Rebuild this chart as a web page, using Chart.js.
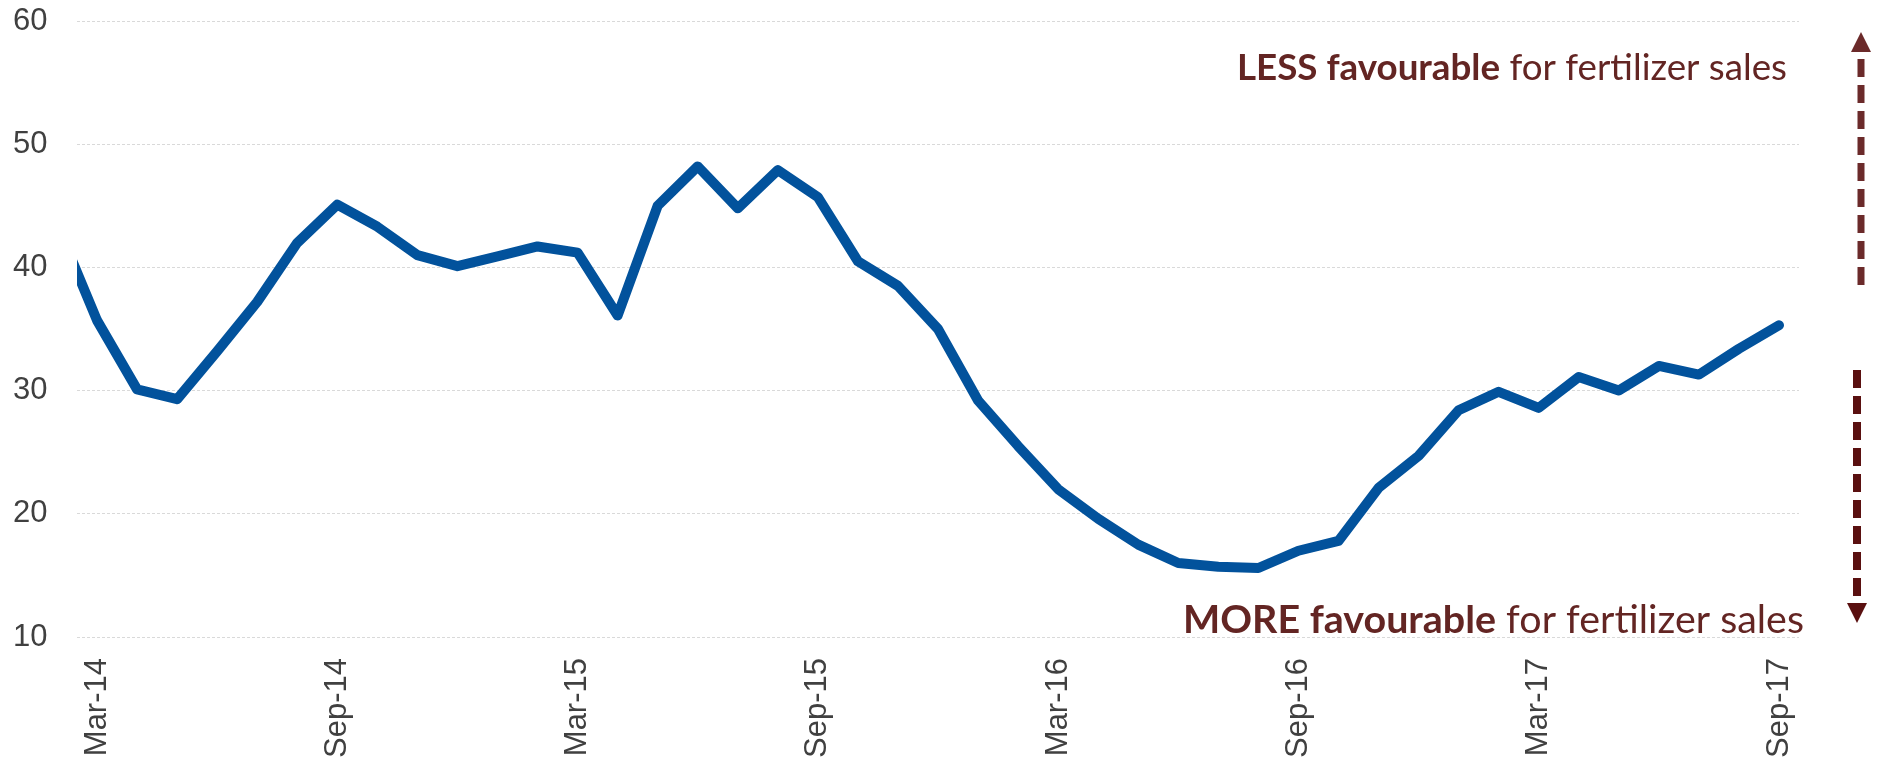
<!DOCTYPE html>
<html>
<head>
<meta charset="utf-8">
<title>Fertilizer sales conditions</title>
<script src="https://cdn.jsdelivr.net/npm/chart.js@4.4.1/dist/chart.umd.min.js"></script>
<style>
  html, body { margin: 0; padding: 0; background: #fff; }
  #wrap { width: 1883px; height: 761px; position: relative; }
</style>
</head>
<body>
<div id="wrap"><canvas id="lineChart"></canvas></div>
<script>
// Monthly labels; Feb-14 lies just off the left edge, the axis starts at Mar-14
const months = [
  'Feb-14', 'Mar-14', 'Apr-14', 'May-14', 'Jun-14', 'Jul-14', 'Aug-14', 'Sep-14', 'Oct-14', 'Nov-14', 'Dec-14',
  'Jan-15', 'Feb-15', 'Mar-15', 'Apr-15', 'May-15', 'Jun-15', 'Jul-15', 'Aug-15', 'Sep-15', 'Oct-15', 'Nov-15', 'Dec-15',
  'Jan-16', 'Feb-16', 'Mar-16', 'Apr-16', 'May-16', 'Jun-16', 'Jul-16', 'Aug-16', 'Sep-16', 'Oct-16', 'Nov-16', 'Dec-16',
  'Jan-17', 'Feb-17', 'Mar-17', 'Apr-17', 'May-17', 'Jun-17', 'Jul-17', 'Aug-17', 'Sep-17'
];

const values = [
  43.5, 35.7, 30.1, 29.3, 33.2, 37.2, 42.0, 45.1, 43.3, 41.0, 40.1,
  40.9, 41.7, 41.2, 36.1, 45.0, 48.2, 44.8, 47.9, 45.7, 40.5, 38.5, 35.0,
  29.2, 25.5, 22.0, 19.6, 17.5, 16.0, 15.7, 15.6, 17.0, 17.8, 22.1, 24.7,
  28.4, 29.9, 28.6, 31.1, 30.0, 32.0, 31.3, 33.4, 35.3
];

const firstMonth = 'Mar-14';
const labelEvery = 6;
const yTicks = [10, 20, 30, 40, 50, 60];

const noteColor = '#632523';

// Draws the two "favourable" notes and the dashed arrows on the right
const favourNotes = {
  id: 'favourNotes',
  afterDraw(chart) {
    const ctx = chart.ctx;
    ctx.save();

    // font size picked for cap height, then squeezed to the wanted width
    function note(bold, rest, right, baseline, width, size) {
      ctx.font = 'bold ' + size + 'px Lato';
      const wb = ctx.measureText(bold).width;
      ctx.font = size + 'px Lato';
      const wr = ctx.measureText(rest).width;
      const sx = width / (wb + wr);

      ctx.save();
      ctx.translate(right - width, baseline);
      ctx.scale(sx, 1);
      ctx.fillStyle = noteColor;
      ctx.textBaseline = 'alphabetic';
      ctx.textAlign = 'left';
      ctx.font = 'bold ' + size + 'px Lato';
      ctx.fillText(bold, 0, 0);
      ctx.font = size + 'px Lato';
      ctx.fillText(rest, wb, 0);
      ctx.restore();
    }

    function arrow(x, from, to, tip, color, lw) {
      ctx.strokeStyle = color;
      ctx.fillStyle = color;
      ctx.lineWidth = lw;
      ctx.setLineDash([18, 8]);
      ctx.beginPath();
      ctx.moveTo(x, from);
      ctx.lineTo(x, to);
      ctx.stroke();
      ctx.setLineDash([]);
      ctx.beginPath();
      ctx.moveTo(x - 10, to);
      ctx.lineTo(x + 10, to);
      ctx.lineTo(x, tip);
      ctx.closePath();
      ctx.fill();
    }

    note('LESS favourable', ' for fertilizer sales', 1787, 80, 550, 37);
    note('MORE favourable', ' for fertilizer sales', 1804, 633, 621, 38);

    arrow(1861, 285, 52, 32, '#6b2a2a', 7);
    arrow(1857, 370, 603, 623, '#5a1010', 8);

    ctx.restore();
  }
};

const ctx = document.getElementById('lineChart').getContext('2d');
const lineChart = new Chart(ctx, {
  type: 'line',
  data: {
    labels: months,
    datasets: [{
      label: 'Index',
      data: values,
      borderColor: '#02529c',
      borderWidth: 10,
      borderCapStyle: 'round',
      borderJoinStyle: 'round',
      pointRadius: 0,
      tension: 0,
      fill: false
    }]
  },
  options: {
    responsive: true,
    maintainAspectRatio: false,
    animation: false,
    layout: {
      padding: { top: 21, right: 84, bottom: 3, left: 13 }
    },
    plugins: {
      legend: { display: false },
      tooltip: { enabled: false }
    },
    scales: {
      x: {
        type: 'category',
        min: firstMonth,
        offset: true,
        grid: { display: false, drawTicks: false },
        border: { display: false },
        afterFit(scale) { scale.height = 121; },
        ticks: {
          autoSkip: false,
          minRotation: 90,
          maxRotation: 90,
          padding: 21,
          color: '#404040',
          font: { family: 'Liberation Sans', size: 31 },
          callback(value) {
            const i = value - months.indexOf(firstMonth);
            return i % labelEvery === 0 ? months[value] : '';
          }
        }
      },
      y: {
        min: yTicks[0],
        max: yTicks[yTicks.length - 1],
        border: { display: false, dash: [3, 2] },
        grid: {
          color: '#d9d9d9',
          lineWidth: 1,
          drawTicks: false
        },
        afterFit(scale) { scale.width = 64; },
        ticks: {
          stepSize: yTicks[1] - yTicks[0],
          padding: 0,
          crossAlign: 'far',
          color: '#404040',
          font: { family: 'Liberation Sans', size: 31 }
        }
      }
    }
  },
  plugins: [favourNotes]
});
</script>
</body>
</html>
